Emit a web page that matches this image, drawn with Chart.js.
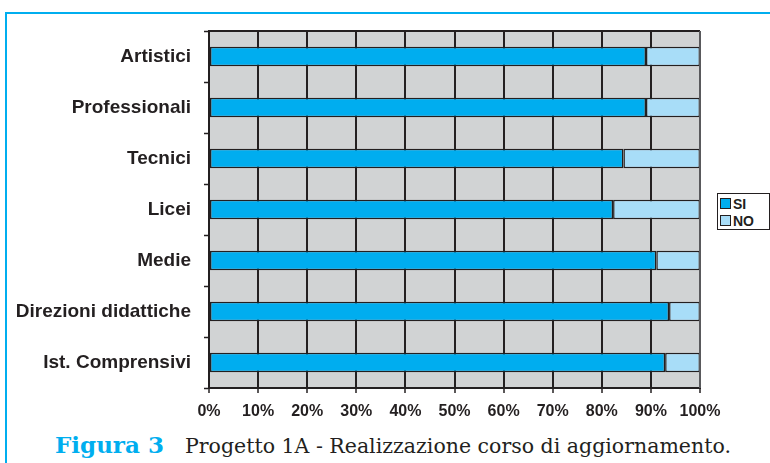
<!DOCTYPE html>
<html><head><meta charset="utf-8">
<script src="https://cdn.jsdelivr.net/npm/chart.js@4"></script>
<style>
html,body{margin:0;padding:0;background:#fff;width:770px;height:463px;overflow:hidden;position:relative;font-family:"Liberation Sans",Arial,sans-serif;}
#frameTop{position:absolute;left:5px;top:12px;width:765px;height:2px;background:#00aeef;}
#frameLeft{position:absolute;left:5px;top:12px;width:2px;height:451px;background:#00aeef;}
#wrap{position:absolute;left:0;top:0;width:770px;height:425px;}
#legend{position:absolute;left:717px;top:193px;width:53px;height:37px;border:1px solid #231f20;background:#fff;box-sizing:border-box;font-weight:bold;font-size:14px;color:#231f20;}
.li{position:absolute;left:2px;height:14px;line-height:14px;}
.sw{display:inline-block;width:9px;height:9px;border:1px solid #231f20;vertical-align:0px;margin-right:2px;}
#caption{position:absolute;left:55px;top:0;height:463px;white-space:nowrap;}
#fig{position:absolute;left:0;top:430px;font-family:"DejaVu Serif",serif;font-weight:bold;color:#00aeef;font-size:23px;line-height:30px;}
#desc{position:absolute;left:130px;top:432px;font-family:"DejaVu Serif",serif;color:#231f20;font-size:20.5px;line-height:28px;}
</style></head><body>
<div id="frameTop"></div><div id="frameLeft"></div>
<div id="wrap"><canvas id="c"></canvas></div>
<div id="legend"><div class="li" style="top:3px"><span class="sw" style="background:#00adef"></span>SI</div><div class="li" style="top:20px"><span class="sw" style="background:#a8ddf8"></span>NO</div></div>
<div id="caption"><div id="fig">Figura 3</div><div id="desc">Progetto 1A - Realizzazione corso di aggiornamento.</div></div>
<script>
const categories = ["Artistici","Professionali","Tecnici","Licei","Medie","Direzioni didattiche","Ist. Comprensivi"];
const siValues = [89.0, 89.0, 84.4, 82.3, 91.1, 93.7, 92.9];
const noValues = [11.0, 11.0, 15.6, 17.7, 8.9, 6.3, 7.1];
const xTicks = [0,10,20,30,40,50,60,70,80,90,100];

const bgPlugin = {
  id:'bg',
  beforeDraw(chart){
    const {ctx, chartArea:a} = chart;
    ctx.save();
    ctx.fillStyle = '#d1d3d4';
    ctx.fillRect(a.left, a.top, a.right-a.left, a.bottom-a.top);
    ctx.restore();
  },
  afterDraw(chart){
    const {ctx, chartArea:a} = chart;
    ctx.save();
    ctx.strokeStyle = '#231f20';
    ctx.lineWidth = 2;
    ctx.beginPath();
    ctx.moveTo(a.left, a.top); ctx.lineTo(a.right, a.top);
    ctx.stroke();
    ctx.strokeStyle = '#6d6e71';
    ctx.lineWidth = 1.5;
    ctx.beginPath();
    ctx.moveTo(a.right, a.top); ctx.lineTo(a.right, a.bottom);
    ctx.stroke();
    ctx.restore();
  }
};

new Chart(document.getElementById('c'), {
  type:'bar',
  data:{
    labels: categories,
    datasets:[
      {label:'SI', data: siValues, backgroundColor:'#00adef', borderColor:'#231f20', borderWidth:1.5, borderSkipped:false, barPercentage:0.38, categoryPercentage:1},
      {label:'NO', data: noValues, backgroundColor:'#a8ddf8', borderColor:'#231f20', borderWidth:1.5, borderSkipped:false, barPercentage:0.38, categoryPercentage:1}
    ]
  },
  options:{
    indexAxis:'y',
    responsive:true,
    maintainAspectRatio:false,
    animation:false,
    layout:{padding:{top:31,right:70,left:0,bottom:0}},
    plugins:{legend:{display:false}, tooltip:{enabled:false}},
    scales:{
      x:{
        stacked:true, min:0, max:100,
        afterBuildTicks(s){ s.ticks = xTicks.map(v=>({value:v})); },
        afterFit(s){ s.height = 37; },
        ticks:{ callback:v=>v+'%', color:'#231f20', font:{family:'"Liberation Sans", Arial, sans-serif', size:16, weight:'bold'}, padding:9, maxRotation:0 },
        grid:{ color:'#231f20', lineWidth:2, tickLength:5, tickColor:'#231f20', tickWidth:1.5 },
        border:{ display:true, color:'#231f20', width:2 }
      },
      y:{
        stacked:true,
        afterFit(s){ s.width = 209; },
        ticks:{ color:'#231f20', font:{family:'"Liberation Sans", Arial, sans-serif', size:19, weight:'bold'}, padding:13 },
        grid:{ drawOnChartArea:false, tickLength:5, tickColor:'#231f20', tickWidth:1.5 },
        border:{ display:true, color:'#231f20', width:2 }
      }
    }
  },
  plugins:[bgPlugin]
});
</script>
</body></html>
